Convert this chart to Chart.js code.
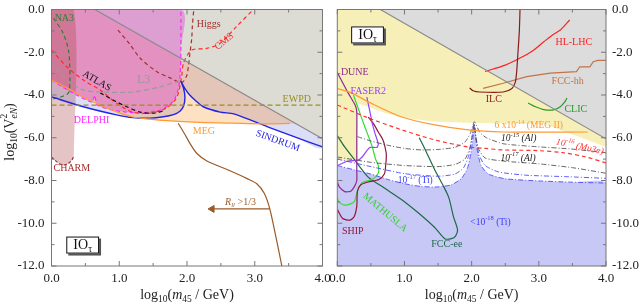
<!DOCTYPE html>
<html><head><meta charset="utf-8">
<script src="https://cdn.jsdelivr.net/npm/chart.js@4.4.1/dist/chart.umd.min.js"></script>
<style>
html,body{margin:0;padding:0;background:#fff;width:640px;height:306px;overflow:hidden}
canvas{position:absolute;top:0}
#c1{left:0}
#c2{left:320px}
</style></head><body>
<canvas id="c1" width="330" height="306"></canvas>
<canvas id="c2" width="320" height="306"></canvas>
<script>
// ---------- axis ticks ----------
const X_TICKS = [0, 1, 2, 3, 4];
const Y_TICKS = [0, -2, -4, -6, -8, -10, -12];
const X_MINOR = [0, 0.5, 1, 1.5, 2, 2.5, 3, 3.5, 4];
const Y_MINOR = [0, -1, -2, -3, -4, -5, -6, -7, -8, -9, -10, -11, -12];

// ---------- left panel (current constraints) ----------
const DIAG = [[0.64,0],[4,-6.05]];
const EWPD = [[0,-4.47],[4,-4.47]];
const MEG = [[0,-3.3],[0.23,-3.67],[0.47,-4.09],[0.72,-4.47],[0.96,-4.79],[1.2,-5.03],[1.45,-5.13],[1.7,-5.2],[2.19,-5.28],[2.69,-5.32],[3.18,-5.35],[3.52,-5.33]];
const MEG_EXT = [[4,-5.38]];
const SINDRUM = [[0,-4.09],[0.47,-4.55],[0.96,-4.93],[1.2,-5.06],[1.45,-5.08],[1.65,-5.02],[1.8,-4.92],[1.9,-4.75],[1.95,-4.5],[1.97,-4.1],[1.95,-3.7],[1.91,-3.35],[1.97,-3.7],[2.04,-4.0],[2.14,-4.3],[2.24,-4.55],[2.49,-4.8],[2.69,-4.88],[3.0,-5.25],[3.2,-5.5],[3.6,-5.97],[4.0,-6.43]];
const DELPHI = [[0,-3.3],[0.2,-3.7],[0.4,-4.05],[0.6,-4.33],[0.64,-4.0],[0.67,-4.45],[0.86,-4.68],[1.1,-4.8],[1.31,-4.84],[1.6,-4.72],[1.75,-4.45],[1.83,-4.1],[1.88,-3.6],[1.9,-3.0],[1.91,-1.9],[1.91,0]];
const CMS = [[0,-1.9],[0.23,-2.69],[0.47,-3.3],[0.72,-3.77],[0.96,-4.38],[1.2,-4.8],[1.45,-4.85],[1.7,-4.6],[1.85,-4.1],[1.92,-3.15],[1.95,-2.5],[2.07,-1.9],[2.29,-1.82],[2.49,-1.58],[2.73,-0.8],[2.98,0]];
const HIGGS = [[0.98,-0.96],[1.15,-1.6],[1.31,-2.28],[1.55,-2.9],[1.75,-3.2],[1.92,-3.42],[1.995,-3.1],[2.02,-2.67],[2.04,-2.13],[2.07,-1.35],[2.08,-0.73],[2.1,0]];
const ATLAS = [[0.72,-3.9],[0.95,-4.3],[1.11,-4.55],[1.31,-4.8],[1.5,-4.85],[1.65,-4.75]];
const L3 = [[0,-2.45],[0.23,-3.3],[0.47,-3.77],[0.72,-3.86],[1.2,-3.86],[1.6,-3.62],[1.85,-3.38],[1.92,-3.3]];
const NA3 = [[0.03,-0.4],[0.17,-1.1],[0.25,-1.9],[0.27,-2.69],[0.27,-3.45],[0.25,-3.9],[0.13,-4.1],[0,-4.2]];
const CHARM = [[0,-6.9],[0.05,-7.05],[0.12,-7.22],[0.18,-7.28],[0.25,-7.2],[0.3,-7.05],[0.33,-6.85]];
const RLL = [[1.87,-5.32],[1.97,-5.85],[2.05,-6.3],[2.15,-6.75],[2.3,-7.1],[2.6,-7.5],[2.88,-7.9],[3.03,-8.15],[3.14,-8.6],[3.22,-9.3],[3.3,-10.45],[3.4,-12]];
const ARROW = [[3.22,-9.33],[2.4,-9.33]];
const ARROW_HEAD = [[2.37,-9.33]];

// ---------- right panel (future sensitivities) ----------
const YEL = [[0,-6.95],[0.1,-7.1],[0.2,-7.15],[0.3,-7.05],[0.3,-4.4],[0.47,-4.56],[0.72,-4.85],[0.96,-5.05],[1.2,-5.15],[1.45,-5.25],[1.95,-5.3],[2.5,-5.33],[3.08,-5.36],[3.2,-5.5],[3.6,-5.97],[4.0,-6.43]];
const TI18 = [[0,-7.3],[0.25,-7.5],[0.5,-7.7],[0.75,-7.95],[1.0,-8.15],[1.25,-8.28],[1.5,-8.3],[1.7,-8.2],[1.85,-7.9],[1.94,-7.4],[1.99,-6.7],[2.02,-6.0],[2.04,-5.35],[2.06,-6.0],[2.09,-6.7],[2.14,-7.3],[2.25,-7.7],[2.5,-7.92],[3.0,-8.02],[3.5,-8.08],[4.0,-8.12]];
const TI17 = [[0,-7.0],[0.5,-7.35],[1.0,-7.68],[1.5,-7.8],[1.75,-7.7],[1.88,-7.4],[1.96,-6.8],[2.0,-6.1],[2.035,-5.35],[2.07,-6.1],[2.11,-6.8],[2.2,-7.3],[2.4,-7.6],[2.8,-7.75],[3.4,-7.82],[4.0,-7.9]];
const AL17 = [[0,-6.9],[0.5,-7.15],[1.0,-7.3],[1.5,-7.35],[1.75,-7.25],[1.9,-7.0],[1.97,-6.5],[2.01,-5.9],[2.035,-5.35],[2.06,-5.9],[2.1,-6.5],[2.2,-6.95],[2.5,-7.1],[3.0,-7.22],[3.5,-7.4],[4.0,-7.66]];
const AL15 = [[0.3,-5.95],[0.5,-6.15],[0.75,-6.35],[1.0,-6.5],[1.25,-6.57],[1.5,-6.55],[1.75,-6.45],[1.9,-6.2],[1.98,-5.8],[2.02,-5.4],[2.04,-5.25],[2.07,-5.4],[2.12,-5.75],[2.22,-6.0],[2.47,-6.28],[2.97,-6.42],[3.46,-6.52],[4.0,-6.7]];
const MU3E = [[0,-4.47],[0.46,-5.07],[0.96,-5.63],[1.45,-6.1],[1.95,-6.43],[2.2,-6.5],[2.47,-6.57],[2.97,-6.6],[3.36,-6.7],[3.7,-6.9],[4.0,-7.18]];
const MEG2 = [[0,-3.7],[0.22,-3.91],[0.46,-4.32],[0.96,-5.03],[1.45,-5.4],[1.95,-5.63],[2.47,-5.73],[3.0,-5.74],[3.73,-5.73]];
const DUNE = [[0,-2.95],[0.16,-3.9],[0.27,-4.5],[0.29,-4.8],[0.29,-6.0],[0.29,-7.5],[0.29,-8.0],[0.26,-8.25],[0.2,-8.5],[0.11,-8.52],[0.03,-8.3],[0,-8.07]];
const FASER2 = [[0.44,-4.1],[0.49,-4.85],[0.52,-5.32],[0.56,-5.78],[0.61,-6.3],[0.59,-6.45],[0.49,-6.45],[0.44,-6.6],[0.37,-6.9],[0.31,-7.04],[0.15,-7.1],[0,-7.3]];
const SHIP = [[0.46,-5.03],[0.55,-5.4],[0.61,-5.73],[0.68,-6.1],[0.71,-6.43],[0.73,-6.8],[0.72,-7.3],[0.7,-7.7],[0.62,-7.95],[0.46,-8.07],[0.35,-8.2],[0.3,-8.5],[0.29,-9.2],[0.25,-9.7],[0.19,-9.85],[0.08,-9.78],[0,-9.35]];
const MATHUSLA = [[0.24,-4.0],[0.32,-4.7],[0.39,-5.32],[0.46,-5.9],[0.52,-6.43],[0.57,-7.0],[0.61,-7.3],[0.61,-7.66],[0.52,-7.95],[0.37,-8.1],[0.3,-8.5],[0.25,-9.0],[0.12,-9.15],[0.02,-9.0],[0,-8.8]];
const FCCEE = [[1.22,-6.0],[1.3,-6.5],[1.45,-7.5],[1.57,-8.2],[1.66,-8.8],[1.73,-9.7],[1.79,-10.3],[1.76,-10.6],[1.7,-10.72],[1.6,-10.72],[1.45,-10.2],[1.2,-9.5],[0.96,-8.9],[0.7,-8.35],[0.46,-7.84],[0.25,-7.0],[0.11,-6.43],[0,-5.9]];
const ILC = [[2.72,0],[2.71,-1.0],[2.69,-2.0],[2.67,-2.92],[2.65,-3.4],[2.6,-3.7],[2.47,-3.86],[2.12,-3.86],[2.02,-3.8],[1.97,-3.67]];
const HLLHC = [[2.2,-2.9],[2.5,-2.6],[2.72,-2.27],[2.9,-1.95],[3.07,-1.52],[3.2,-1.2],[3.32,-0.96],[3.46,-0.49]];
const FCCHH = [[2.17,-3.69],[2.47,-3.45],[2.82,-3.14],[3.17,-2.98],[3.56,-2.91],[3.61,-2.68],[3.76,-2.68],[3.81,-2.44],[3.88,-2.38],[4.0,-2.38]];
const CLIC = [[2.84,-4.37],[2.95,-4.55],[3.07,-4.68],[3.22,-4.7],[3.32,-4.55],[3.38,-4.35],[3.42,-4.14]];

// ---------- helpers ----------
const SERIF = '"Liberation Serif", "DejaVu Serif", serif';
Chart.defaults.font.family = SERIF;
const xy = a => a.map(([x, y]) => ({x, y}));
const poly = (...parts) => [].concat(...parts);
function line(a, color, o = {}) {
  return Object.assign({data: xy(a), borderColor: color, backgroundColor: color, borderWidth: 1.2,
    pointRadius: 0, pointHoverRadius: 0, fill: false, tension: 0.3, order: 1}, o);
}
function area(a, color, order, tension = 0.3) {
  return {data: xy(a), backgroundColor: color, borderColor: 'rgba(0,0,0,0)', borderWidth: 0,
    pointRadius: 0, pointHoverRadius: 0, fill: 'shape', tension, order};
}
const DASH = [4, 3];
const DASHDOT = [5, 2, 1, 2];

function fontStr(sz, it) { return (it ? 'italic ' : '') + sz + 'px ' + SERIF; }
function drawRich(ctx, parts, cx, cy, size, color, rot = 0) {
  const segs = parts.map(p => typeof p === 'string' ? {t: p, m: ''} : {t: p[0], m: p[1]});
  let w = 0;
  for (const s of segs) {
    s.sz = /sub|sup/.test(s.m) ? size * 0.68 : size;
    ctx.font = fontStr(s.sz, s.m.startsWith('i'));
    s.w = ctx.measureText(s.t).width;
    if (!s.m.includes('z')) w += s.w;
  }
  ctx.save();
  ctx.translate(cx, cy); ctx.rotate(rot * Math.PI / 180);
  ctx.fillStyle = color; ctx.textBaseline = 'middle'; ctx.textAlign = 'left';
  let xx = -w / 2;
  for (const s of segs) {
    ctx.font = fontStr(s.sz, s.m.startsWith('i'));
    const dy = s.m.includes('sub') ? size * 0.3 : s.m.includes('sup') ? -size * 0.38 : 0;
    ctx.fillText(s.t, xx, dy);
    if (!s.m.includes('z')) xx += s.w;
  }
  ctx.restore();
  return w;
}

function makeDecor(labels, box, side) {
  return {
    id: 'decor' + side,
    afterDatasetsDraw(chart) {
      const {ctx, chartArea: a, scales: {x, y}} = chart;
      ctx.save();
      ctx.strokeStyle = '#777'; ctx.lineWidth = 1;
      ctx.strokeRect(a.left, a.top, a.right - a.left, a.bottom - a.top);
      ctx.beginPath();
      for (const v of X_MINOR) {
        const px = x.getPixelForValue(v), len = Number.isInteger(v) ? 5 : 3;
        ctx.moveTo(px, a.bottom); ctx.lineTo(px, a.bottom - len);
        ctx.moveTo(px, a.top); ctx.lineTo(px, a.top + len);
      }
      for (const v of Y_MINOR) {
        const py = y.getPixelForValue(v), len = (v % 2 === 0) ? 5 : 3;
        ctx.moveTo(a.left, py); ctx.lineTo(a.left + len, py);
        ctx.moveTo(a.right, py); ctx.lineTo(a.right - len, py);
      }
      ctx.stroke();
      for (const L of labels) {
        drawRich(ctx, L.p, x.getPixelForValue(L.x), y.getPixelForValue(L.y), L.s || 10, L.c, L.r || 0);
      }
      // IO_tau box
      const bx = x.getPixelForValue(box[0]), by = y.getPixelForValue(box[1]);
      ctx.font = fontStr(14, false);
      const w = ctx.measureText('IO').width + 6, bw = w + 12, bh = 17;
      ctx.fillStyle = '#555'; ctx.fillRect(bx - bw / 2 + 2, by - bh / 2 + 2, bw, bh);
      ctx.fillStyle = '#fff'; ctx.fillRect(bx - bw / 2, by - bh / 2, bw, bh);
      ctx.strokeStyle = '#111'; ctx.strokeRect(bx - bw / 2 + 0.5, by - bh / 2 + 0.5, bw - 1, bh - 1);
      drawRich(ctx, ['IO', ['τ', 'sub']], bx, by, 14, '#111');
      // x title
      drawRich(ctx, ['log', ['10', 'sub'], '(', ['m', 'i'], ['45', 'sub'], ' / GeV)'], (a.left + a.right) / 2, 295, 14, '#222');
      if (side === 'L') {
        ctx.save(); ctx.translate(10, 132); ctx.rotate(-Math.PI / 2);
        drawRich(ctx, ['log', ['10', 'sub'], '(V', ['2', 'supz'], ['eN', 'isub'], ')'], 0, 0, 14, '#222');
        ctx.restore();
      }
      ctx.restore();
    }
  };
}

function makeOpts(side) {
  const L = side === 'L';
  return {
    animation: false, responsive: false, devicePixelRatio: 1,
    layout: {padding: L ? {top: 9.5, right: 7.5, left: 0, bottom: 0} : {top: 9.5, left: 17.3, right: 0, bottom: 0}},
    plugins: {legend: {display: false}, tooltip: {enabled: false}},
    scales: {
      x: {type: 'linear', min: 0, max: 4,
        afterBuildTicks: s => { s.ticks = X_TICKS.map(v => ({value: v})); },
        ticks: {callback: v => Number(v).toFixed(1), padding: 5, color: '#222', font: {size: 13}, maxRotation: 0, autoSkip: false},
        grid: {display: false, drawTicks: false}, border: {display: false},
        afterFit: s => { s.height = 40; s.paddingLeft = 0; s.paddingRight = 0; }},
      y: {type: 'linear', position: L ? 'left' : 'right', min: -12, max: 0,
        afterBuildTicks: s => { s.ticks = Y_TICKS.map(v => ({value: v})); },
        ticks: {callback: v => Number(v).toFixed(1), padding: L ? 7 : 6, color: '#222', font: {size: 13}, autoSkip: false},
        grid: {display: false, drawTicks: false}, border: {display: false},
        afterFit: s => { s.width = L ? 51.5 : 34; s.paddingTop = 0; s.paddingBottom = 0; }}
    }
  };
}

// ---------- left chart ----------
const TAN = poly(MEG.filter(p => p[0] <= 1.2), SINDRUM.filter(p => p[0] >= 1.45 && p[0] <= 3.0), MEG.filter(p => p[0] >= 3.18), MEG_EXT, [[4, 0], [0, 0]]);
const leftDS = [
  area(poly(MEG, MEG_EXT, [[4, 0], [0, 0]]), '#fde1c2', 100),
  area(poly(SINDRUM, [[4, 0], [0, 0]]), '#dcdef8', 99),
  area(TAN, '#e4c6b8', 98),
  area(poly(DIAG, [[4, 0]]), '#dcdcd5', 97, 0),
  area(poly(DELPHI, [[0, 0]]), 'rgba(223,60,205,0.38)', 96),
  area(poly(CHARM, [[0.33, 0], [0, 0]]), 'rgba(165,58,58,0.30)', 95),
  line(DIAG, '#8a8a8a', {tension: 0}),
  line(EWPD, '#9a8e1e', {borderDash: [5, 3], tension: 0}),
  line(MEG, '#ff9933'),
  line(SINDRUM, '#2323e6', {borderWidth: 1.4, tension: 0.25}),
  line(L3, '#9a9a9a', {borderDash: [5, 3]}),
  line(NA3, '#2e7d32', {borderDash: DASH}),
  line(ATLAS, '#111', {borderDash: DASH}),
  line(HIGGS, '#a33030', {borderDash: DASH}),
  line(CMS, '#ff2a2a', {borderDash: DASH}),
  line(DELPHI, '#ff2aff', {borderDash: DASH, tension: 0.2}),
  line(CHARM, '#a33030', {borderDash: [3, 2]}),
  line(RLL, '#9a5a28'),
  line(ARROW, '#9a5a28', {tension: 0}),
  {data: xy(ARROW_HEAD), showLine: false, pointStyle: 'triangle', pointRotation: -90, pointRadius: 4,
   pointBackgroundColor: '#9a5a28', pointBorderColor: '#9a5a28', borderColor: '#9a5a28', order: 0}
];
const leftLabels = [
  {p: ['NA3'], x: 0.19, y: -0.4, c: '#2e7d32'},
  {p: ['Higgs'], x: 2.32, y: -0.68, c: '#a33030'},
  {p: ['CMS'], x: 2.55, y: -1.5, c: '#ff2a2a', r: -40},
  {p: ['ATLAS'], x: 0.67, y: -3.35, c: '#111', r: 30},
  {p: ['L3'], x: 1.36, y: -3.3, c: '#999', s: 12},
  {p: ['EWPD'], x: 3.62, y: -4.19, c: '#9a8e1e'},
  {p: ['DELPHI'], x: 0.59, y: -5.17, c: '#ff2aff'},
  {p: ['MEG'], x: 2.25, y: -5.68, c: '#ff9933'},
  {p: ['SINDRUM'], x: 3.34, y: -6.15, c: '#2323e6', r: 20},
  {p: ['CHARM'], x: 0.3, y: -7.42, c: '#a33030'},
  {p: [['R', 'i'], ['ll', 'isub'], ' >1/3'], x: 2.79, y: -9.0, c: '#9a5a28'}
];
new Chart(document.getElementById('c1'), {
  type: 'line', data: {datasets: leftDS}, options: makeOpts('L'),
  plugins: [makeDecor(leftLabels, [0.46, -11.02], 'L')]
});

// ---------- right chart ----------
const rightDS = [
  area(poly(TI18, [[4, -12], [0, -12]]), '#c8c8f6', 100, 0.2),
  area(poly(YEL, [[4, 0], [0, 0]]), '#f6f0b8', 99, 0),
  area(poly(DIAG, [[4, 0]]), '#dcdcdc', 98, 0),
  line(DIAG, '#8a8a8a', {tension: 0}),
  line(MEG2, '#ff9933'),
  line(MU3E, '#ff3333', {borderDash: DASH}),
  line(AL15, '#555', {borderDash: DASHDOT, borderWidth: 0.9, tension: 0.2}),
  line(AL17, '#555', {borderDash: DASHDOT, borderWidth: 0.9, tension: 0.2}),
  line(TI17, '#4a4aff', {borderDash: DASHDOT, borderWidth: 0.9, tension: 0.2}),
  line(TI18, '#4a4aff', {borderDash: DASHDOT, borderWidth: 0.9, tension: 0.2}),
  line(DUNE, '#8e2a8e', {tension: 0.2}),
  line(FASER2, '#9b40ff', {tension: 0.2}),
  line(SHIP, '#8b1a3a', {tension: 0.25}),
  line(MATHUSLA, '#33dd33', {tension: 0.25}),
  line(FCCEE, '#1d6b45', {tension: 0.25}),
  line(ILC, '#8b1a1a', {tension: 0.25}),
  line(HLLHC, '#ff2020'),
  line(FCCHH, '#c0744a', {tension: 0}),
  line(CLIC, '#2a9a2a')
];
const rightLabels = [
  {p: ['DUNE'], x: 0.26, y: -2.95, c: '#8e2a8e'},
  {p: ['FASER2'], x: 0.46, y: -3.81, c: '#9b40ff'},
  {p: ['HL-LHC'], x: 3.52, y: -1.52, c: '#ff2020'},
  {p: ['FCC-hh'], x: 3.43, y: -3.35, c: '#c0744a'},
  {p: ['ILC'], x: 2.33, y: -4.19, c: '#8b1a1a'},
  {p: ['CLIC'], x: 3.55, y: -4.66, c: '#2a9a2a'},
  {p: ['6 x10', ['-14', 'sup'], ' (MEG II)'], x: 2.85, y: -5.45, c: '#ff9933', s: 9.5},
  {p: [['10', 'i'], ['-15', 'isup'], [' (Al)', 'i']], x: 2.7, y: -6.05, c: '#222', s: 9.5},
  {p: [['10', 'i'], ['-16', 'isup'], [' (Mu3e)', 'i']], x: 3.61, y: -6.42, c: '#ff3333', s: 9.5, r: 12},
  {p: [['10', 'i'], ['-17', 'isup'], [' (Al)', 'i']], x: 2.69, y: -6.95, c: '#222', s: 9.5},
  {p: ['10', ['-17', 'sup'], ' (Ti)'], x: 1.16, y: -8.02, c: '#3a3aff', s: 9.5},
  {p: ['<10', ['-18', 'sup'], ' (Ti)'], x: 2.28, y: -9.96, c: '#3a3aff', s: 9.5},
  {p: ['SHIP'], x: 0.23, y: -10.36, c: '#8b1a3a'},
  {p: ['MATHUSLA'], x: 0.71, y: -9.5, c: '#33cc33', r: 40},
  {p: ['FCC-ee'], x: 1.63, y: -10.97, c: '#1d6b45'}
];
new Chart(document.getElementById('c2'), {
  type: 'line', data: {datasets: rightDS}, options: makeOpts('R'),
  plugins: [makeDecor(rightLabels, [0.45, -1.19], 'R')]
});
</script>
</body></html>
